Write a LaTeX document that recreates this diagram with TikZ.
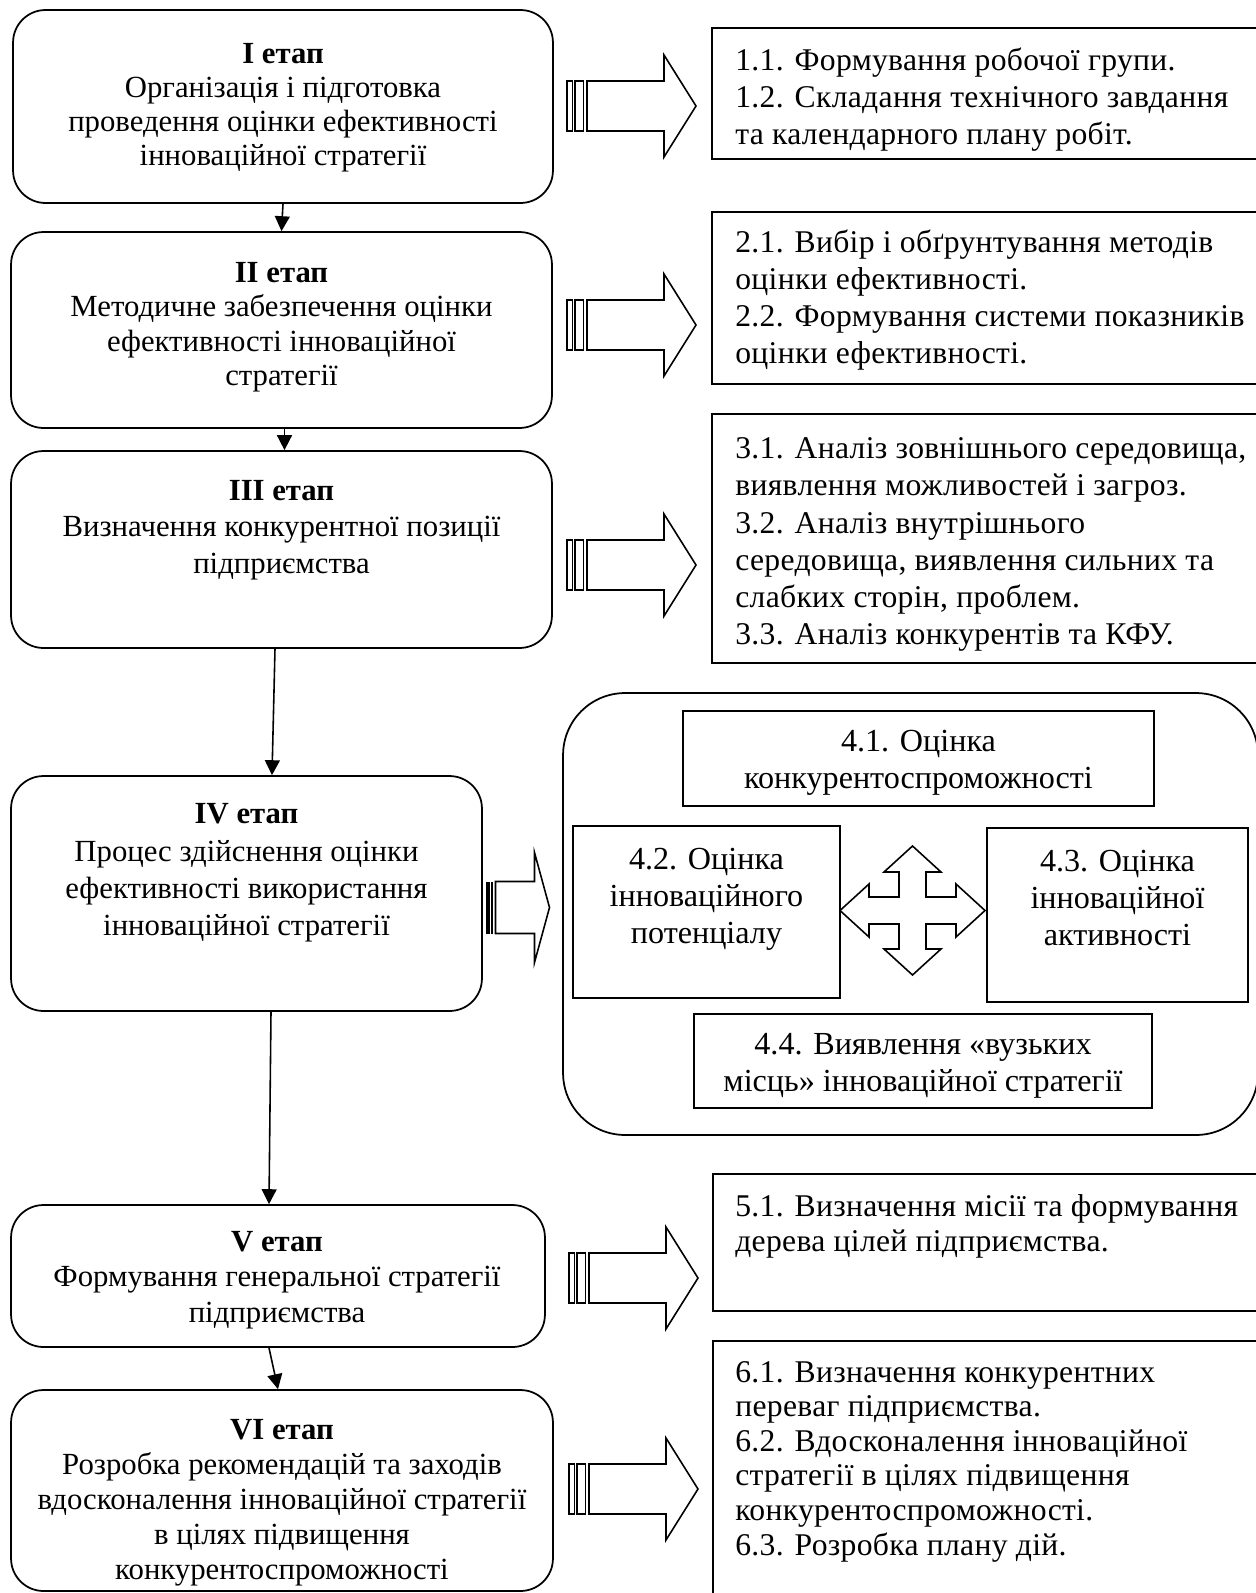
\documentclass[tikz,border=0pt]{standalone}
\usepackage{fontspec}
\setmainfont{Liberation Serif}
\newfontfamily\wideserif[LetterSpace=1]{Liberation Serif}
\newfontfamily\taskserif[LetterSpace=1]{Liberation Serif}
\usetikzlibrary{calc, arrows.meta}

\tikzset{
	stagebox/.style={draw, line width=1pt, rounded corners=0.65cm, inner sep=0pt},
	taskbox/.style={draw, line width=1pt, inner sep=0pt},
	stagetext/.style={align=center, inner sep=0pt, font=\fontsize{17.5}{#1}\selectfont},
	stagetext/.default=19.6,
	tasktext/.style={align=left, anchor=west, inner sep=0pt, font=\taskserif\fontsize{18}{19.7}\selectfont},
	widetext/.style={tasktext, font=\wideserif\fontsize{18}{21.1}\selectfont},
	subtext/.style={align=center, inner sep=0pt, font=\fontsize{18.3}{21}\selectfont},
	flow/.style={line width=0.9pt, -{Triangle[length=8.5pt, width=8.5pt]}},
	arrowshape/.style={line width=0.9pt, line join=miter, fill=white},
}

% hollow arrow with two bars at its tail
\newcommand{\stripedarrow}[1]{
	\begin{scope}[shift={(#1)}]
		\draw[arrowshape] (0,-25) rectangle (5.5,25);
		\draw[arrowshape] (8,-25) rectangle (16.5,25);
		\draw[arrowshape] (20,-25) -- (97,-25) -- (97,-51) -- (129,0) -- (97,51) -- (97,25) -- (20,25) -- cycle;
	\end{scope}
}

\begin{document}
\begin{tikzpicture}[x=0.02cm, y=-0.02cm]
	\useasboundingbox (0,0) rectangle (1256,1593);
	
	% stages
	\node[stagebox, minimum width=10.8cm, minimum height=3.86cm] (s1) at (283,106.5) {};
	\node[stagebox, minimum width=10.82cm, minimum height=3.92cm] (s2) at (281.5,330) {};
	\node[stagebox, minimum width=10.82cm, minimum height=3.94cm] (s3) at (281.5,549.5) {};
	\node[stagebox, minimum width=9.42cm, minimum height=4.7cm] (s4) at (246.5,893.5) {};
	\node[stagebox, minimum width=10.68cm, minimum height=2.84cm] (s5) at (278,1276) {};
	\node[stagebox, minimum width=10.84cm, minimum height=4.02cm] (s6) at (282,1490.5) {};
	
	\node[stagetext=19.3] (t1) at (283,107.5) {\textbf{I етап}\\Організація і підготовка\\проведення оцінки ефективності\\інноваційної стратегії};
	\node[stagetext=19.6] (t2) at (281.5,327) {\textbf{II етап}\\Методичне забезпечення оцінки\\ефективності інноваційної\\стратегії};
	\node[stagetext=20.8] (t3) at (281.5,530) {\textbf{III етап}\\Визначення конкурентної позиції\\підприємства};
	\node[stagetext=21.2] (t4) at (246.5,873) {\textbf{IV етап}\\Процес здійснення оцінки\\ефективності використання\\інноваційної стратегії};
	\node[stagetext=20.2] (t5) at (277,1280) {\textbf{V етап}\\Формування генеральної стратегії\\підприємства};
	\node[stagetext=19.9] (t6) at (282,1503) {\textbf{VI етап}\\Розробка рекомендацій та заходів\\вдосконалення інноваційної стратегії\\в цілях підвищення\\конкурентоспроможності};
	
	\begin{scope}
		\draw[flow] (s1.south) -- (s2.north);
		\draw[flow] ($(s2.south)+(3,0)$) -- ($(s3.north)+(3,0)$);
		\draw[flow] ($(s3.south)+(-6.5,0)$) -- ($(s4.north)+(25.5,0)$);
		\draw[flow] ($(s4.south)+(24.5,0)$) -- ($(s5.north)+(-9,0)$);
		\draw[flow] ($(s5.south)+(-9,0)$) -- ($(s6.north)+(-4,0)$);
	\end{scope}
	
	% tasks
	\node[taskbox, minimum width=11cm, minimum height=2.62cm] (p1) at (987,93.5) {};
	\node[taskbox, minimum width=11cm, minimum height=3.44cm] (p2) at (987,298) {};
	\node[taskbox, minimum width=11cm, minimum height=4.98cm] (p3) at (987,538.5) {};
	\node[taskbox, minimum width=10.98cm, minimum height=2.74cm] (p5) at (987.5,1242.5) {};
	\node[taskbox, minimum width=10.98cm, minimum height=5.18cm] (p6) at (987.5,1470.5) {};
	
	\node[widetext] (r1) at (735,99.5) {1.1. Формування робочої групи.\\1.2. Складання технічного завдання\\та календарного плану робіт.};
	\node[widetext] (r2) at (735,300) {2.1. Вибір і обґрунтування методів\\оцінки ефективності.\\2.2. Формування системи показників\\оцінки ефективності.};
	\node[widetext] (r3) at (735,544.5) {3.1. Аналіз зовнішнього середовища,\\виявлення можливостей і загроз.\\3.2. Аналіз внутрішнього\\середовища, виявлення сильних та\\слабких сторін, проблем.\\3.3. Аналіз конкурентів та КФУ.};
	\node[tasktext] (r5) at (735,1226.5) {5.1. Визначення місії та формування\\дерева цілей підприємства.};
	\node[tasktext] (r6) at (735,1461.5) {6.1. Визначення конкурентних\\переваг підприємства.\\6.2. Вдосконалення інноваційної\\стратегії в цілях підвищення\\конкурентоспроможності.\\6.3. Розробка плану дій.};
	
	% stage IV block
	\node[stagebox, rounded corners=1.24cm, minimum width=13.9cm, minimum height=8.84cm] (g4) at (910.5,914) {};
	\node[taskbox, minimum width=9.42cm, minimum height=1.9cm] (q1) at (918.5,758.5) {};
	\node[taskbox, minimum width=5.34cm, minimum height=3.44cm] (q2) at (706.5,912) {};
	\node[taskbox, minimum width=5.22cm, minimum height=3.48cm] (q3) at (1117.5,915) {};
	\node[taskbox, minimum width=9.16cm, minimum height=1.88cm] (q4) at (923,1061) {};
	
	\node[subtext] (u1) at (918.5,763) {4.1. Оцінка\\конкурентоспроможності};
	\node[subtext] (u2) at (706.5,899) {4.2. Оцінка\\інноваційного\\потенціалу};
	\node[subtext] (u3) at (1117.5,898) {4.3. Оцінка\\інноваційної\\активності};
	\node[subtext] (u4) at (923,1066) {4.4. Виявлення «вузьких\\місць» інноваційної стратегії};
	
	% four-way arrow between 4.2 and 4.3
	\begin{scope}[shift={(912.5,910.5)}]
		\draw[arrowshape] (0,-64.5) -- (28.5,-38.5) -- (13.5,-38.5) -- (13.5,-13.5) -- (43.5,-13.5) -- (43.5,-26.5) -- (72.5,0)
			-- (43.5,26.5) -- (43.5,13.5) -- (13.5,13.5) -- (13.5,38.5) -- (28.5,38.5) -- (0,64.5)
			-- (-28.5,38.5) -- (-13.5,38.5) -- (-13.5,13.5) -- (-43.5,13.5) -- (-43.5,26.5) -- (-72.5,0)
			-- (-43.5,-26.5) -- (-43.5,-13.5) -- (-13.5,-13.5) -- (-13.5,-38.5) -- (-28.5,-38.5) -- cycle;
	\end{scope}
	
	% block arrows
	\stripedarrow{567,106}
	\stripedarrow{567,325}
	\stripedarrow{567,565}
	\stripedarrow{569,1278}
	\stripedarrow{569,1489}
	
	\begin{scope}[shift={(486,907.5)}]
		\fill (0,-26) rectangle (3.5,26);
		\draw[line width=0.9pt] (6,-26) -- (6,26);
		\draw[arrowshape] (9.5,-26) -- (48.5,-26) -- (48.5,-55) -- (63.5,0) -- (48.5,55) -- (48.5,26) -- (9.5,26) -- cycle;
	\end{scope}
\end{tikzpicture}
\end{document}
